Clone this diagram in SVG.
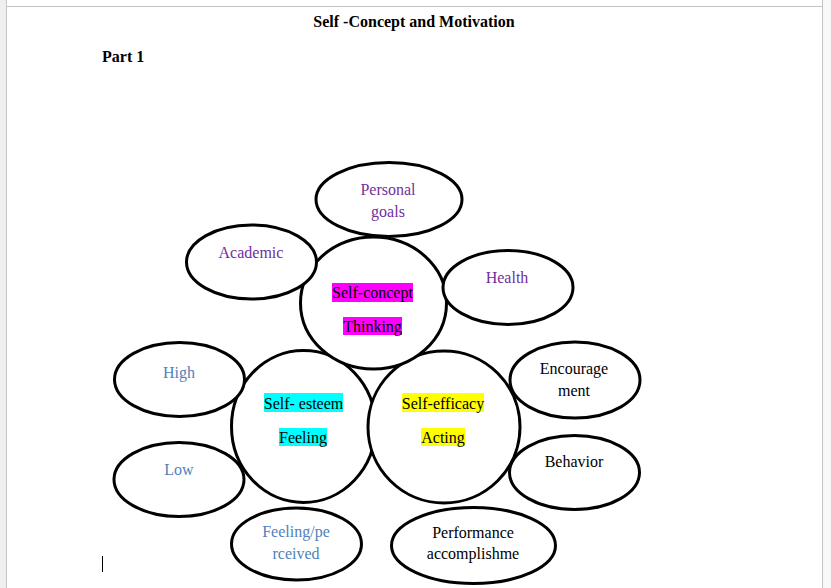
<svg xmlns="http://www.w3.org/2000/svg" width="831" height="588" viewBox="0 0 831 588">
<style>
.n{fill:#fff;stroke:#000;stroke-width:3}
text{font-family:"Liberation Serif","Times New Roman",serif;font-size:16px;text-anchor:middle}
.p{fill:#7030A0}
.b{fill:#4F81BD}
.k{fill:#000}
.t{font-weight:bold}
</style>
<rect x="0" y="0" width="831" height="588" fill="#fff"/>
<rect x="0" y="0" width="6" height="588" fill="#efefef"/>
<rect x="823" y="0" width="8" height="588" fill="#f9f9f9"/>
<line x1="6.5" y1="0" x2="6.5" y2="588" stroke="#c4c4c4" stroke-width="1"/>
<line x1="6" y1="6.5" x2="823" y2="6.5" stroke="#c4c4c4" stroke-width="1"/>
<line x1="822.5" y1="0" x2="822.5" y2="588" stroke="#c4c4c4" stroke-width="1"/>
<text class="t" x="414" y="27">Self -Concept and Motivation</text>
<text class="t" x="102" y="62" style="text-anchor:start">Part 1</text>
<line x1="102.5" y1="556" x2="102.5" y2="572" stroke="#000" stroke-width="1"/>
<g id="connectors"></g>
<g id="self-esteem">
<ellipse class="n" cx="303.5" cy="426.5" rx="72" ry="76"/>
<rect x="264" y="393" width="79" height="19" fill="#00FFFF"/>
<text class="k" x="303.5" y="409">Self- esteem</text>
<rect x="279" y="428" width="48" height="18" fill="#00FFFF"/>
<text class="k" x="303" y="443">Feeling</text>
</g>
<g id="self-efficacy">
<ellipse class="n" cx="444" cy="427" rx="76" ry="76"/>
<rect x="402" y="393" width="82" height="19" fill="#FFFF00"/>
<text class="k" x="443" y="409">Self-efficacy</text>
<rect x="421" y="428" width="44" height="18" fill="#FFFF00"/>
<text class="k" x="443" y="443">Acting</text>
</g>
<g id="self-concept">
<ellipse class="n" cx="373.5" cy="303" rx="73" ry="66"/>
<rect x="332" y="283" width="81" height="19" fill="#FF00FF"/>
<text class="k" x="372.5" y="298">Self-concept</text>
<rect x="343" y="317" width="59" height="18" fill="#FF00FF"/>
<text class="k" x="372.5" y="332">Thinking</text>
</g>
<g id="personal-goals">
<ellipse class="n" cx="389" cy="199.5" rx="73" ry="37"/>
<text class="p" x="388" y="195">Personal</text>
<text class="p" x="388" y="217">goals</text>
</g>
<g id="academic">
<ellipse class="n" cx="251.5" cy="262" rx="65" ry="37"/>
<text class="p" x="251" y="258">Academic</text>
</g>
<g id="health">
<ellipse class="n" cx="508" cy="287.5" rx="65" ry="37"/>
<text class="p" x="507" y="283">Health</text>
</g>
<g id="high">
<ellipse class="n" cx="179.5" cy="379.5" rx="65" ry="37"/>
<text class="b" x="179" y="378">High</text>
</g>
<g id="low">
<ellipse class="n" cx="179" cy="479.5" rx="65" ry="37"/>
<text class="b" x="179" y="475">Low</text>
</g>
<g id="encouragement">
<ellipse class="n" cx="575" cy="380" rx="65" ry="38"/>
<text class="k" x="574" y="374">Encourage</text>
<text class="k" x="574" y="396">ment</text>
</g>
<g id="behavior">
<ellipse class="n" cx="574.5" cy="472.5" rx="65" ry="37"/>
<text class="k" x="574" y="467">Behavior</text>
</g>
<g id="feeling-perceived">
<ellipse class="n" cx="296.5" cy="544" rx="65" ry="36"/>
<text class="b" x="296" y="537">Feeling/pe</text>
<text class="b" x="296" y="559">rceived</text>
</g>
<g id="performance">
<ellipse class="n" cx="473.5" cy="545.5" rx="82" ry="38"/>
<text class="k" x="473" y="538">Performance</text>
<text class="k" x="473" y="559">accomplishme</text>
</g>
</svg>
